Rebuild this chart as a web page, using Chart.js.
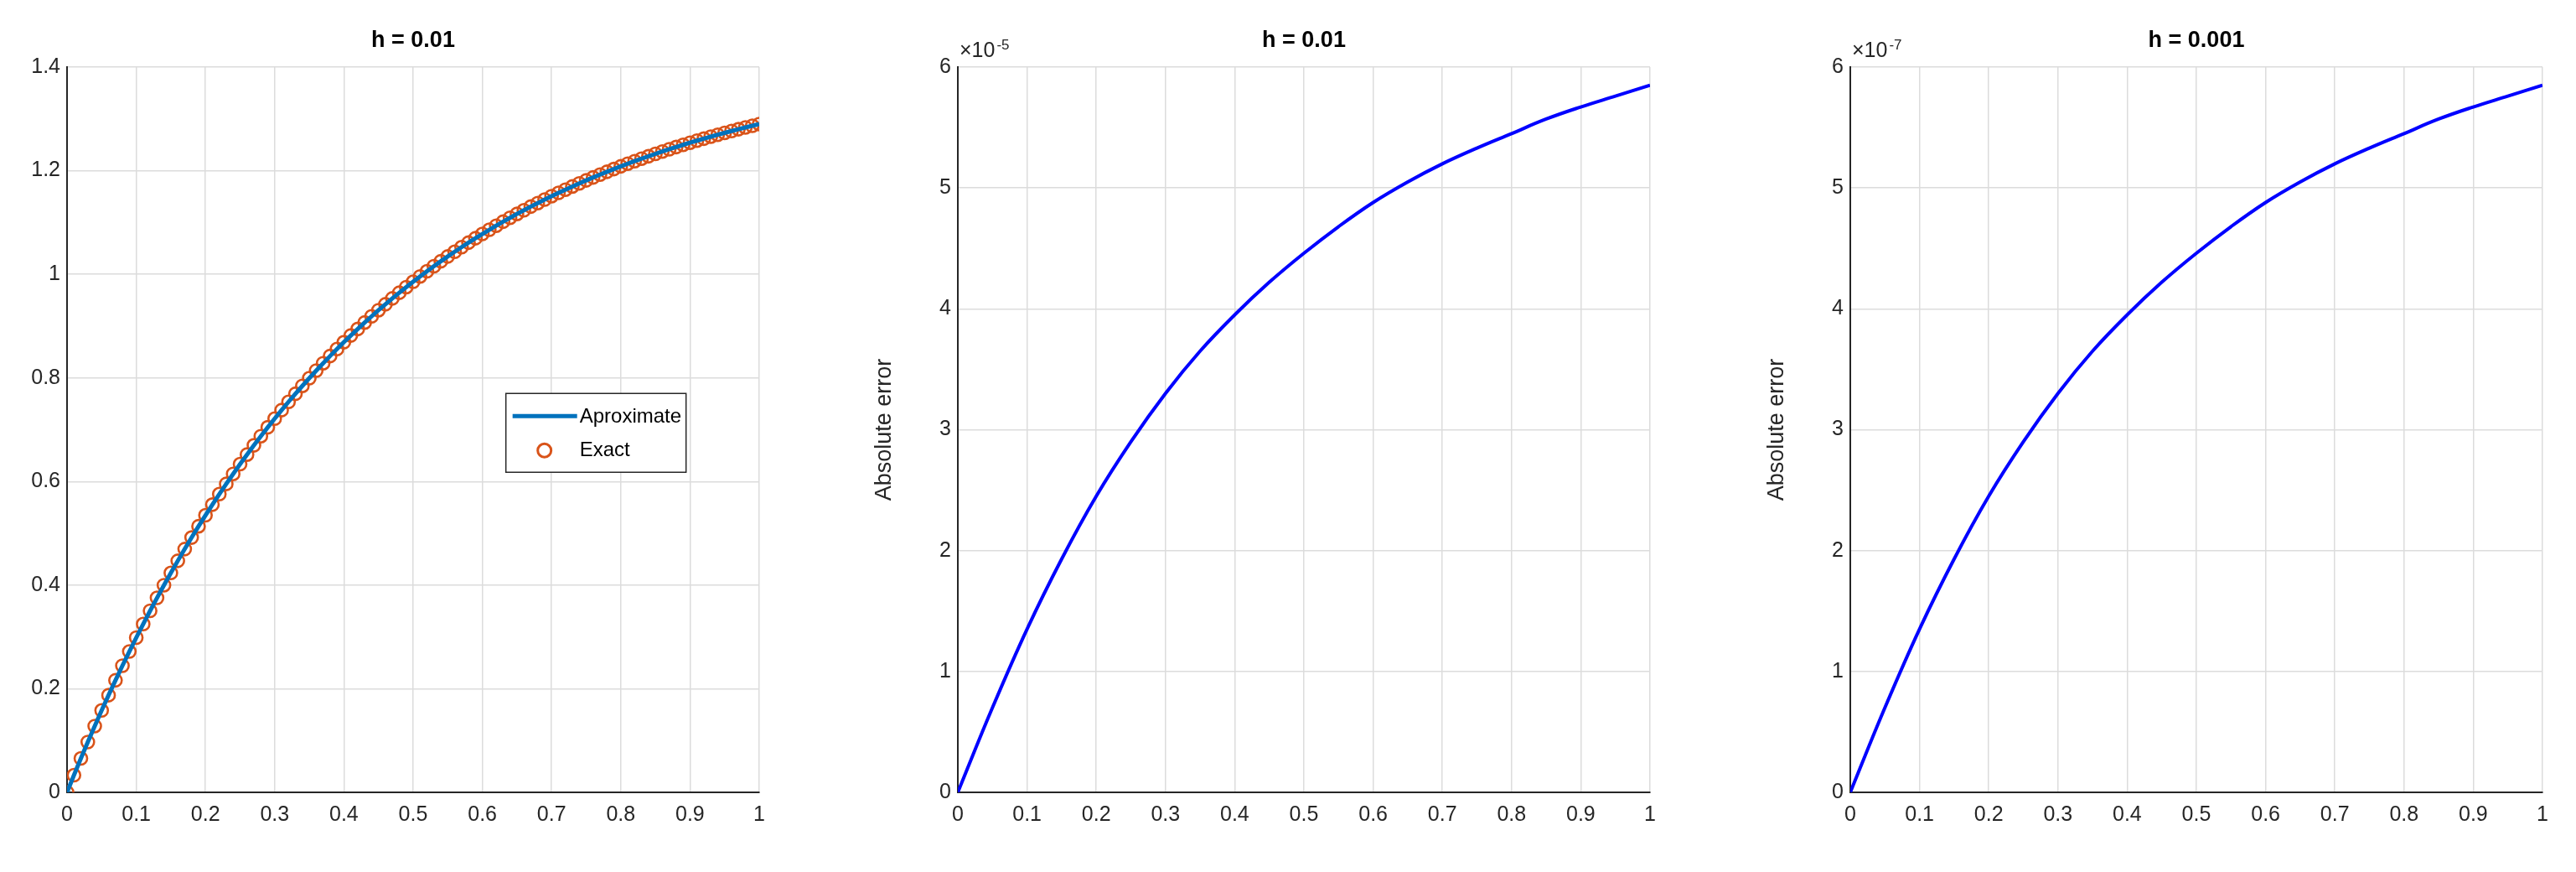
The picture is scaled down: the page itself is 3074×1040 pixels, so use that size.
<!DOCTYPE html>
<html lang="en">
<head>
<meta charset="UTF-8">
<title>Approximation and error</title>
<script src="https://cdn.jsdelivr.net/npm/chart.js"></script>
<style>
  body { margin: 0; background: #fff; width: 3074px; height: 1040px; position: relative; overflow: hidden; }
  .box { position: absolute; top: 0; height: 1040px; }
</style>
</head>
<body>
<div class="box" style="left:0;width:930px"><canvas id="solChart"></canvas></div>
<div class="box" style="left:1033px;width:960px"><canvas id="err1Chart"></canvas></div>
<div class="box" style="left:2098px;width:960px"><canvas id="err2Chart"></canvas></div>
<script>
// x ticks shared by all panels
const xTicks = [0, 0.1, 0.2, 0.3, 0.4, 0.5, 0.6, 0.7, 0.8, 0.9, 1];

// solution at x = 0, 0.01, ..., 1
const solution = [
  0, 0.0331, 0.0655, 0.0971, 0.1279, 0.1581, 0.1875, 0.2163, 0.2444, 0.2718,
  0.2986, 0.3248, 0.3504, 0.3754, 0.3998, 0.4236, 0.4469, 0.4696, 0.4919, 0.5136,
  0.5348, 0.5554, 0.5757, 0.5954, 0.6147, 0.6336, 0.6520, 0.6699, 0.6875, 0.7047,
  0.7214, 0.7378, 0.7538, 0.7694, 0.7846, 0.7995, 0.8141, 0.8283, 0.8422, 0.8557,
  0.8690, 0.8819, 0.8945, 0.9069, 0.9189, 0.9307, 0.9422, 0.9535, 0.9644, 0.9752,
  0.9856, 0.9959, 1.0058, 1.0156, 1.0251, 1.0344, 1.0435, 1.0524, 1.0611, 1.0696,
  1.0779, 1.0859, 1.0938, 1.1016, 1.1091, 1.1165, 1.1236, 1.1307, 1.1375, 1.1442,
  1.1508, 1.1572, 1.1634, 1.1695, 1.1755, 1.1813, 1.1870, 1.1925, 1.1979, 1.2032,
  1.2084, 1.2135, 1.2184, 1.2232, 1.2279, 1.2325, 1.2370, 1.2414, 1.2457, 1.2499,
  1.2540, 1.2580, 1.2619, 1.2657, 1.2694, 1.2730, 1.2766, 1.2801, 1.2835, 1.2867,
  1.2900
];
const solutionX = solution.map((_, i) => i / 100);

// absolute error, in units of the axis multiplier, at x = 0, 0.05, ..., 1
const errX = [0, 0.05, 0.1, 0.15, 0.2, 0.25, 0.3, 0.35, 0.4, 0.45, 0.5,
              0.55, 0.6, 0.65, 0.7, 0.75, 0.8, 0.85, 0.9, 0.95, 1];
const errH01 = [0, 0.70, 1.35, 1.93, 2.45, 2.90, 3.30, 3.65, 3.95, 4.22, 4.46,
                4.68, 4.88, 5.05, 5.20, 5.33, 5.45, 5.57, 5.67, 5.76, 5.85];
const errH001 = [0, 0.70, 1.35, 1.93, 2.45, 2.90, 3.30, 3.65, 3.95, 4.22, 4.46,
                 4.68, 4.88, 5.05, 5.20, 5.33, 5.45, 5.57, 5.67, 5.76, 5.85];

const FONT = "'Liberation Sans Narrow', 'Liberation Sans', Arial, sans-serif";
const axisCol = '#262626';
const gridCol = '#dcdcdc';

// title, exponent label and legend drawn on top of the chart area
const decorPlugin = {
  id: 'decor',
  afterDraw(chart, args, opts) {
    const ctx = chart.ctx, a = chart.chartArea;
    ctx.save();
    ctx.fillStyle = '#000';
    ctx.font = 'bold 27px ' + FONT;
    ctx.textAlign = 'center';
    ctx.textBaseline = 'bottom';
    ctx.fillText(opts.title, (a.left + a.right) / 2, a.top - 18);
    if (opts.exponent) {
      ctx.fillStyle = axisCol;
      ctx.textAlign = 'left';
      ctx.font = '25px ' + FONT;
      ctx.fillText('\u00d710', a.left + 2, a.top - 6);
      const w = ctx.measureText('\u00d710').width;
      ctx.font = '17px ' + FONT;
      ctx.fillText(opts.exponent, a.left + 4 + w, a.top - 17);
    }
    if (opts.legend) {
      const x0 = a.left + 0.634 * (a.right - a.left);
      const y0 = a.top + 0.45 * (a.bottom - a.top);
      const w = 215, h = 94;
      ctx.fillStyle = '#fff';
      ctx.fillRect(x0, y0, w, h);
      ctx.strokeStyle = '#262626';
      ctx.lineWidth = 1.5;
      ctx.strokeRect(x0, y0, w, h);
      ctx.strokeStyle = '#0072BD';
      ctx.lineWidth = 5;
      ctx.beginPath();
      ctx.moveTo(x0 + 8, y0 + 27);
      ctx.lineTo(x0 + 85, y0 + 27);
      ctx.stroke();
      ctx.strokeStyle = '#D95319';
      ctx.lineWidth = 3;
      ctx.beginPath();
      ctx.arc(x0 + 46, y0 + 68, 8, 0, Math.PI * 2);
      ctx.stroke();
      ctx.fillStyle = '#000';
      ctx.font = '24px ' + FONT;
      ctx.textAlign = 'left';
      ctx.textBaseline = 'middle';
      ctx.fillText('Aproximate', x0 + 88, y0 + 28);
      ctx.fillText('Exact', x0 + 88, y0 + 68);
    }
    ctx.restore();
  }
};

function makeScales(yMax, yStep, yTitle, yWidth) {
  return {
    x: {
      type: 'linear', min: 0, max: 1,
      afterBuildTicks: s => { s.ticks = xTicks.map(v => ({ value: v })); },
      afterFit: s => { s.height = 95; },
      grid: { color: gridCol, lineWidth: 1.5, tickLength: 0 },
      border: { color: axisCol, width: 2 },
      ticks: { color: axisCol, font: { family: FONT, size: 25 }, padding: 12, maxRotation: 0,
               callback: v => String(v) }
    },
    y: {
      type: 'linear', min: 0, max: yMax,
      ticks: { stepSize: yStep, color: axisCol, font: { family: FONT, size: 25 }, padding: 8,
               callback: v => String(Math.round(v * 10) / 10) },
      afterFit: s => { s.width = yWidth; },
      grid: { color: gridCol, lineWidth: 1.5, tickLength: 0 },
      border: { color: axisCol, width: 2 },
      title: { display: !!yTitle, text: yTitle, color: axisCol, font: { family: FONT, size: 27 }, padding: 6 }
    }
  };
}

function pts(xs, ys) { return xs.map((x, i) => ({ x: x, y: ys[i] })); }

const baseOpts = {
  responsive: false, animation: false,
  plugins: { legend: { display: false }, tooltip: { enabled: false } }
};

function setup(id, w) {
  const c = document.getElementById(id);
  c.width = w; c.height = 1040;
  return c;
}

new Chart(setup('solChart', 930), {
  type: 'line',
  data: {
    datasets: [
      { data: pts(solutionX, solution), borderColor: '#0072BD', borderWidth: 5, pointRadius: 0, tension: 0 },
      { data: pts(solutionX, solution), showLine: false, pointRadius: 7.5, pointBorderWidth: 2.6,
        pointBorderColor: '#D95319', pointBackgroundColor: 'rgba(0,0,0,0)' }
    ]
  },
  options: Object.assign({}, baseOpts, {
    layout: { padding: { top: 80, right: 24, bottom: 0, left: 0 } },
    scales: makeScales(1.4, 0.2, '', 80),
    plugins: Object.assign({}, baseOpts.plugins, { decor: { title: 'h = 0.01', legend: true } })
  }),
  plugins: [decorPlugin]
});

new Chart(setup('err1Chart', 960), {
  type: 'line',
  data: { datasets: [{ data: pts(errX, errH01), borderColor: '#0000FF', borderWidth: 4, pointRadius: 0, tension: 0.4 }] },
  options: Object.assign({}, baseOpts, {
    layout: { padding: { top: 80, right: 24, bottom: 0, left: 0 } },
    scales: makeScales(6, 1, 'Absolute error', 110),
    plugins: Object.assign({}, baseOpts.plugins, { decor: { title: 'h = 0.01', exponent: '-5' } })
  }),
  plugins: [decorPlugin]
});

new Chart(setup('err2Chart', 960), {
  type: 'line',
  data: { datasets: [{ data: pts(errX, errH001), borderColor: '#0000FF', borderWidth: 4, pointRadius: 0, tension: 0.4 }] },
  options: Object.assign({}, baseOpts, {
    layout: { padding: { top: 80, right: 24, bottom: 0, left: 0 } },
    scales: makeScales(6, 1, 'Absolute error', 110),
    plugins: Object.assign({}, baseOpts.plugins, { decor: { title: 'h = 0.001', exponent: '-7' } })
  }),
  plugins: [decorPlugin]
});
</script>
</body>
</html>
